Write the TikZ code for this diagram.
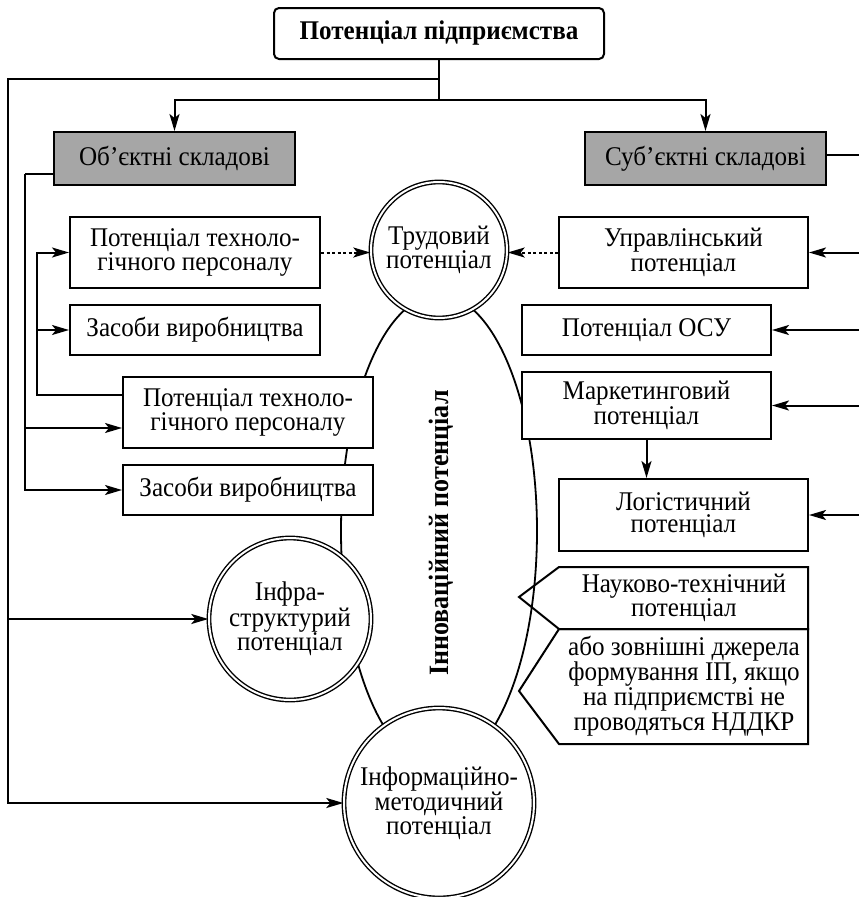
\documentclass[tikz,border=0pt]{standalone}
\usepackage{fontspec}
\setmainfont[FakeStretch=0.93]{Liberation Serif}
\usetikzlibrary{arrows.meta,calc}
\definecolor{boxgray}{RGB}{166,166,166}
\begin{document}
\begin{tikzpicture}[x=1pt,y=-1pt,
  every node/.style={font=\fontsize{27}{22}\selectfont, inner sep=0pt, align=center},
  box/.style={draw, line width=2pt, fill=white},
  dcirc/.style={circle, draw, double, double distance=2pt, line width=1.4pt, fill=white},
  conn/.style={line width=2pt},
  arr/.style={line width=2pt, -{Stealth[length=17pt,width=10pt,inset=4pt]}},
  dotarr/.style={arr, dash pattern=on 3pt off 2.5pt}]
\useasboundingbox (0,0) rectangle (859,897);
% big ellipse
\draw[line width=1.8pt] (439,531) ellipse [x radius=98pt, y radius=236pt];
% top
\node[box, rounded corners=5pt, minimum width=330pt, minimum height=51pt,
  font=\fontsize{27}{22}\selectfont\bfseries] (top) at (439,33.5) {Потенціал підприємства};
\node[box, fill=boxgray, minimum width=241pt, minimum height=53pt] (obj) at (174.5,158.5) {Об’єктні складові};
\node[box, fill=boxgray, minimum width=241pt, minimum height=53pt] (subj) at (705.5,158.5) {Суб’єктні складові};
% left boxes
\node[box, minimum width=250pt, minimum height=71pt] (b1) at (195,252.5) {Потенціал техноло-\\гічного персоналу};
\node[box, minimum width=250pt, minimum height=50pt] (b2) at (195,330) {Засоби виробництва};
\node[box, minimum width=250pt, minimum height=71pt] (b3) at (248,412.5) {Потенціал техноло-\\гічного персоналу};
\node[box, minimum width=250pt, minimum height=50pt] (b4) at (248,490) {Засоби виробництва};
% right boxes
\node[box, minimum width=249pt, minimum height=71pt] (upr) at (683.5,252.5) {Управлінський\\потенціал};
\node[box, minimum width=249pt, minimum height=50pt] (osu) at (646.5,330) {Потенціал ОСУ};
\node[box, minimum width=249pt, minimum height=67pt] (mark) at (646.5,405.5) {Маркетинговий\\потенціал};
\node[box, minimum width=249pt, minimum height=72pt] (log) at (683.5,515) {Логістичний\\потенціал};
% pentagons
\draw[conn] (519,597) -- (559,567) -- (808,567) -- (808,629) -- (559,629) -- cycle;
\draw[conn] (519,691) -- (559,629) -- (808,629) -- (808,744) -- (559,744) -- cycle;
\node (nt) at (684,598) {Науково-технічний\\потенціал};
\node (ext) at (684,686) {або зовнішні джерела\\формування ІП, якщо\\на підприємстві не\\проводяться НДДКР};
% circles
\node[dcirc, minimum size=136pt] (trud) at (439,250) {Трудовий\\потенціал};
\node[dcirc, minimum size=162pt] (infra) at (290,619) {Інфра-\\структурий\\потенціал};
\node[dcirc, minimum size=190pt] (info) at (439,803) {Інформаційно-\\методичний\\потенціал};
% rotated label
\node[rotate=90, font=\fontsize{28}{28}\selectfont\bfseries] (inn) at (441,533) {Інноваційний потенціал};
% top connectors
\coordinate (j0) at (439,79);
\coordinate (j1) at (439,100);
\coordinate (L0) at (8,79);
\coordinate (Lb) at (8,619);
\draw[conn] (top.south) -- (j1);
\draw[arr] (j1) -| (obj.north);
\draw[arr] (j1) -| (subj.north);
\draw[arr] (j0) -- (L0) |- (info.west);
\draw[arr] (Lb) -- (infra.west);
% objective branch
\coordinate (o0) at (25,174);
\coordinate (o3) at (25,428);
\draw[conn] (o0 -| obj.west) -- (o0);
\draw[arr] (o0) |- (b4.west);
\draw[arr] (o3) -- (o3 -| b3.west);
\coordinate (i0) at (37,395);
\draw[arr] (i0 -| b3.west) -- (i0) |- (b1.west);
\draw[arr] (i0 |- b2.west) -- (b2.west);
% dotted
\draw[dotarr] (b1.east) -- (b1.east -| trud.west);
\draw[dotarr] (upr.west) -- (upr.west -| trud.east);
% right side
\coordinate (Rs) at (862,155);
\coordinate (R1) at (862,252.5);
\coordinate (R2) at (862,330);
\coordinate (R3) at (862,405.5);
\coordinate (R4) at (862,515);
\draw[conn] (Rs -| subj.east) -- (Rs);
\draw[arr] (R1) -- (upr.east);
\draw[arr] (R2) -- (osu.east);
\draw[arr] (R3) -- (mark.east);
\draw[arr] (R4) -- (log.east);
\draw[arr] (mark.south) -- (mark.south |- log.north);
\end{tikzpicture}
\end{document}
